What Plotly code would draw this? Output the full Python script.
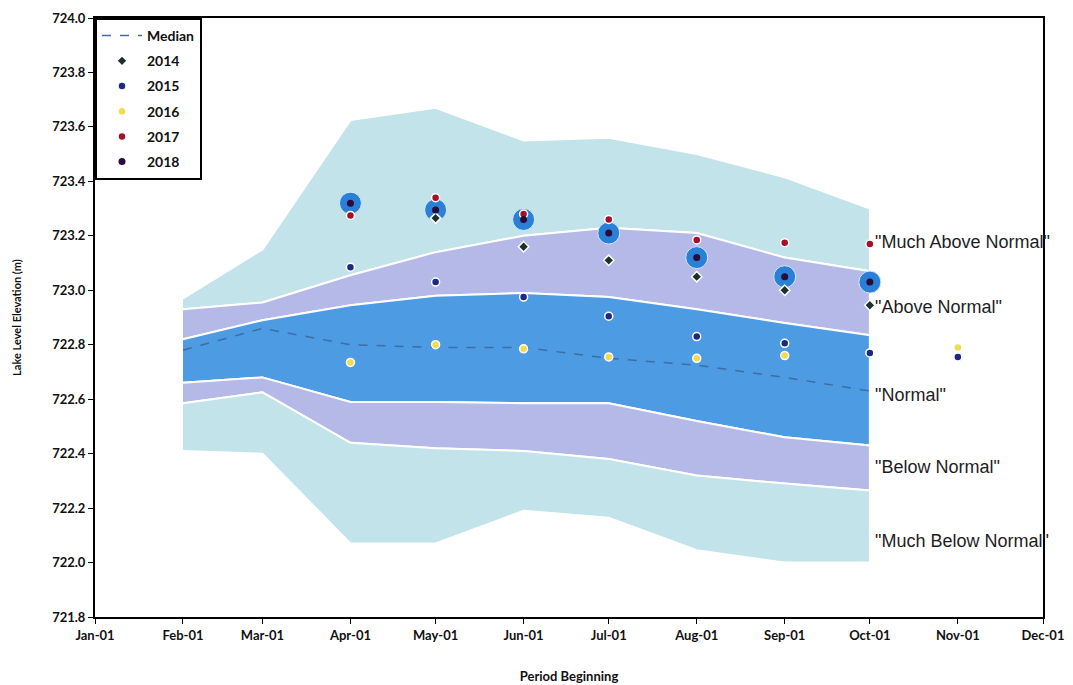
import plotly.graph_objects as go

# ---- data ----
band_dates = ["2001-02-01", "2001-03-01", "2001-04-01", "2001-05-01", "2001-06-01",
              "2001-07-01", "2001-08-01", "2001-09-01", "2001-10-01"]
band_max = [722.97, 723.15, 723.625, 723.67, 723.55, 723.56, 723.50, 723.415, 723.30]
band_q_hi = [722.93, 722.955, 723.055, 723.14, 723.20, 723.23, 723.21, 723.12, 723.07]
band_n_hi = [722.82, 722.89, 722.945, 722.98, 722.99, 722.975, 722.93, 722.88, 722.835]
band_n_lo = [722.66, 722.68, 722.59, 722.59, 722.585, 722.585, 722.52, 722.46, 722.43]
band_q_lo = [722.585, 722.625, 722.44, 722.42, 722.41, 722.38, 722.32, 722.29, 722.265]
band_min = [722.41, 722.40, 722.07, 722.07, 722.19, 722.165, 722.045, 722.00, 722.00]
median = [722.78, 722.86, 722.80, 722.79, 722.79, 722.75, 722.725, 722.68, 722.63]

pt_dates = ["2001-04-01", "2001-05-01", "2001-06-01", "2001-07-01", "2001-08-01",
            "2001-09-01", "2001-10-01", "2001-11-01"]
y2014 = [None, 723.265, 723.16, 723.11, 723.05, 723.00, 722.945, None]
y2015 = [723.085, 723.03, 722.975, 722.905, 722.83, 722.805, 722.77, 722.755]
y2016 = [722.735, 722.80, 722.785, 722.755, 722.75, 722.76, None, 722.79]
y2017 = [723.275, 723.34, 723.28, 723.26, 723.185, 723.175, 723.17, None]
y2018 = [723.32, 723.295, 723.26, 723.21, 723.12, 723.05, 723.03, None]

band_labels = ['"Much Above Normal"', '"Above Normal"', '"Normal"', '"Below Normal"', '"Much Below Normal"']
band_label_y = [723.176, 722.94, 722.615, 722.35, 722.08]

tick_dates = ["2001-%02d-01" % m for m in range(1, 13)]

# ---- figure ----
fig = go.Figure()

def band(upper, lower, color):
    fig.add_trace(go.Scatter(
        x=band_dates + band_dates[::-1], y=upper + lower[::-1],
        fill="toself", fillcolor=color, mode="lines",
        line=dict(color="white", width=2), hoverinfo="skip", showlegend=False))

band(band_max, band_q_hi, "#c2e3e9")
band(band_q_hi, band_n_hi, "#b5b9e7")
band(band_n_hi, band_n_lo, "#4d9be2")
band(band_n_lo, band_q_lo, "#b5b9e7")
band(band_q_lo, band_min, "#c2e3e9")

fig.add_trace(go.Scatter(x=band_dates, y=median, mode="lines", name="Median", legendgroup="m",
                         line=dict(color="#3d6da6", width=1.5, dash="dash")))

halo = dict(color="white", width=1.5)
fig.add_trace(go.Scatter(x=pt_dates, y=y2018, mode="markers", showlegend=False,
                         marker=dict(size=22, color="#2a7fd6", line=dict(color="#d8ecf5", width=1)),
                         hoverinfo="skip"))
fig.add_trace(go.Scatter(x=pt_dates, y=y2014, mode="markers", name="2014", legendgroup="a",
                         marker=dict(symbol="diamond", size=8, color="#1d302e", line=halo)))
fig.add_trace(go.Scatter(x=pt_dates, y=y2015, mode="markers", name="2015", legendgroup="b",
                         marker=dict(symbol="circle", size=8, color="#1c2a86", line=halo)))
fig.add_trace(go.Scatter(x=pt_dates, y=y2016, mode="markers", name="2016", legendgroup="c",
                         marker=dict(symbol="circle", size=8, color="#f0dc50", line=halo)))
fig.add_trace(go.Scatter(x=pt_dates, y=y2017, mode="markers", name="2017", legendgroup="d",
                         marker=dict(symbol="circle", size=8, color="#a4102a", line=halo)))
fig.add_trace(go.Scatter(x=pt_dates, y=y2018, mode="markers", name="2018", legendgroup="e",
                         marker=dict(symbol="circle", size=7, color="#2a0c3a")))

for txt, yv in zip(band_labels, band_label_y):
    fig.add_annotation(x="2001-10-01", y=yv, text=txt, showarrow=False,
                       xanchor="left", yanchor="middle", xshift=3,
                       font=dict(family="Liberation Sans", size=18, color="#1e1e1e"))

axis_font = dict(family="Lato", size=13, color="#111111", weight="bold")
fig.update_xaxes(range=["2001-01-01", "2001-12-01"], tickvals=tick_dates, tickformat="%b-%d",
                 ticks="outside", ticklen=5, tickcolor="black", showgrid=False, automargin=False,
                 showline=True, linecolor="black", linewidth=2, mirror=True,
                 tickfont=axis_font,
                 title=dict(text="Period Beginning", font=dict(family="Lato", size=13, color="#111", weight="bold"),
                            standoff=30))
fig.update_yaxes(range=[721.8, 724.0], dtick=0.2, tickformat=".1f",
                 ticks="outside", ticklen=5, tickcolor="black", showgrid=False, zeroline=False,
                 showline=True, linecolor="black", linewidth=2, mirror=True, automargin=False,
                 tickfont=axis_font,
                 title=dict(text="Lake Level Elevation (m)", font=dict(family="Lato", size=11, color="#111", weight="bold"),
                            standoff=28))
fig.update_layout(
    width=1073, height=685, plot_bgcolor="white", paper_bgcolor="white",
    margin=dict(l=87, r=38, t=10, b=76),
    legend=dict(x=0, y=1, xanchor="left", yanchor="top", bgcolor="white",
                bordercolor="black", borderwidth=2, tracegroupgap=4,
                font=dict(family="Lato", size=14, color="#111", weight="bold"),
                itemwidth=40),
)
fig.write_html("out.html")
